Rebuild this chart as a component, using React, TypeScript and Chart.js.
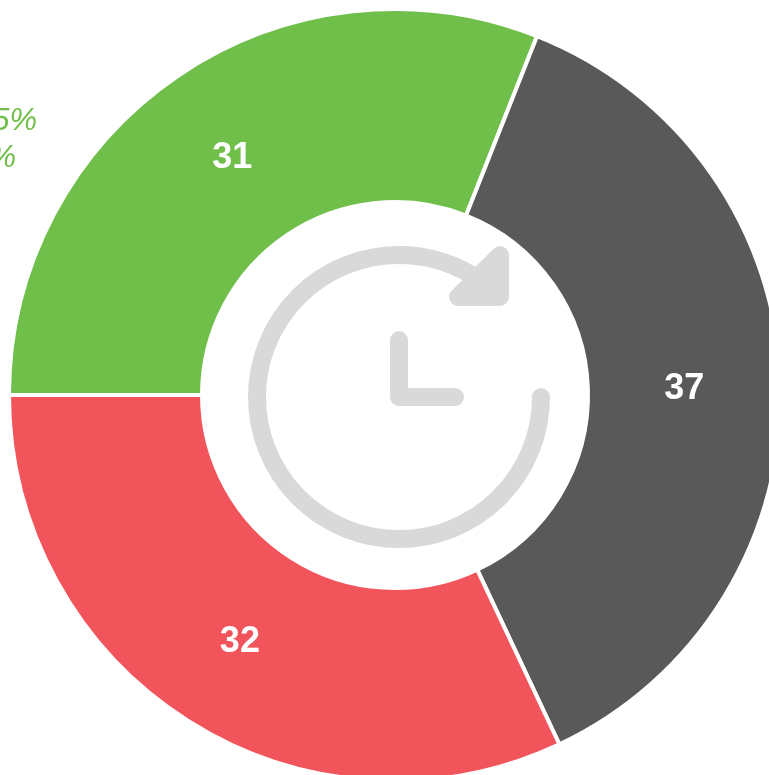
import React, { useEffect, useRef } from "react";
import { Chart, registerables } from "chart.js";

Chart.register(...registerables);

const categories = ["A", "B", "C"];
const values = [31, 37, 32];
const colors = ["#70BF4B", "#595959", "#F2545B"];
const sideNotes = ["5%", "%"];

const ICON = "#D9D9D9";

const overlay = {
  id: "overlay",
  afterDatasetsDraw(chart: any) {
    const { ctx } = chart;
    const meta = chart.getDatasetMeta(0);
    ctx.save();
    ctx.fillStyle = "#FFFFFF";
    ctx.font = "bold 36px 'Liberation Sans', Arial, sans-serif";
    ctx.textAlign = "center";
    ctx.textBaseline = "middle";
    meta.data.forEach((arc: any, i: number) => {
      const p = arc.getCenterPoint();
      ctx.fillText(String(values[i]), p.x, p.y + 3);
    });

    ctx.fillStyle = "#70BF4B";
    ctx.font = "italic 31px 'Liberation Sans', Arial, sans-serif";
    ctx.textAlign = "right";
    ctx.fillText(sideNotes[0], 37, 121);
    ctx.fillText(sideNotes[1], 16, 158);

    ctx.strokeStyle = ICON;
    ctx.fillStyle = ICON;
    ctx.lineWidth = 18;
    ctx.lineCap = "round";
    ctx.lineJoin = "round";
    ctx.beginPath();
    ctx.arc(399, 397, 142, 0, Math.PI * 1.67);
    ctx.stroke();
    ctx.beginPath();
    ctx.moveTo(399, 340);
    ctx.lineTo(399, 397);
    ctx.lineTo(455, 397);
    ctx.stroke();
    ctx.beginPath();
    ctx.moveTo(500, 255);
    ctx.lineTo(500, 297);
    ctx.lineTo(458, 297);
    ctx.closePath();
    ctx.fill();
    ctx.stroke();
    ctx.restore();
  },
};

export default function App() {
  const ref = useRef<HTMLCanvasElement>(null);
  useEffect(() => {
    const chart = new Chart(ref.current!, {
      type: "doughnut",
      data: {
        labels: categories,
        datasets: [
          {
            data: values,
            backgroundColor: colors,
            borderColor: "#FFFFFF",
            borderWidth: 4,
          },
        ],
      },
      options: {
        animation: false,
        responsive: false,
        rotation: -90,
        cutout: 193,
        layout: { padding: 7 },
        plugins: { legend: { display: false }, tooltip: { enabled: false } },
      },
      plugins: [overlay],
    } as any);
    return () => chart.destroy();
  }, []);
  return (
    <div style={{ position: "fixed", left: 0, top: 0, width: 769, height: 775, overflow: "hidden", background: "#fff" }}>
      <canvas ref={ref} width={790} height={790} style={{ display: "block", width: 790, height: 790 }} />
    </div>
  );
}
